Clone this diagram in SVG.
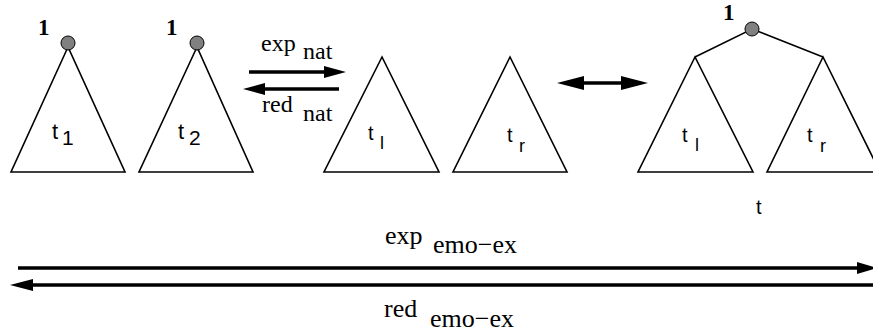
<svg xmlns="http://www.w3.org/2000/svg" width="873" height="333" viewBox="0 0 873 333">
<style>
.tri{fill:none;stroke:#000;stroke-width:1.6;stroke-linejoin:miter}
.edge{fill:none;stroke:#000;stroke-width:1.6}
.root{fill:#808080;stroke:#000;stroke-width:1}
.arr{stroke:#000;stroke-width:3.6;fill:none}
.head{fill:#000}
.num{font-family:"Liberation Serif",serif;font-weight:bold;font-size:23px;fill:#000}
.sans{font-family:"Liberation Sans",Arial,sans-serif;fill:#000}
.serif{font-family:"Liberation Serif",serif;fill:#000}
</style>
<rect width="873" height="333" fill="#fff"/>
<g id="tree-t1">
<polygon class="tri" points="68,47 11,172 125,172"/>
<circle class="root" cx="68" cy="43" r="7"/>
<text class="num" x="38" y="35">1</text>
<text class="sans" x="52" y="139" font-size="22">t</text>
<text class="sans" x="62" y="145" font-size="21">1</text>
</g>
<g id="tree-t2">
<polygon class="tri" points="197,47 139,172 253,172"/>
<circle class="root" cx="197" cy="43" r="7"/>
<text class="num" x="166" y="35">1</text>
<text class="sans" x="178" y="139" font-size="22">t</text>
<text class="sans" x="189" y="145" font-size="21">2</text>
</g>
<g id="tree-tl">
<polygon class="tri" points="382,57 324,172 439,172"/>
<text class="sans" x="368" y="140" font-size="20">t</text>
<text class="sans" x="380" y="149" font-size="18">l</text>
</g>
<g id="tree-tr">
<polygon class="tri" points="510,57 453,172 567,172"/>
<text class="sans" x="507" y="142" font-size="20">t</text>
<text class="sans" x="519" y="152" font-size="18">r</text>
</g>
<g id="tree-t">
<polyline class="edge" points="695,57 752,29 823,57"/>
<polygon class="tri" points="695,57 638,172 753,172"/>
<polygon class="tri" points="823,57 767,172 880,172"/>
<circle class="root" cx="752" cy="29" r="7"/>
<text class="num" x="723" y="20">1</text>
<text class="sans" x="682" y="142" font-size="20">t</text>
<text class="sans" x="695" y="151" font-size="18">l</text>
<text class="sans" x="807" y="142" font-size="20">t</text>
<text class="sans" x="820" y="152" font-size="18">r</text>
<text class="sans" x="756" y="214" font-size="20">t</text>
</g>
<g id="connectors">
<line class="arr" x1="249" y1="72" x2="326" y2="72"/>
<polygon class="head" points="346,72 324,66 324,78"/>
<line class="arr" x1="339" y1="89" x2="262" y2="89"/>
<polygon class="head" points="243,89 265,83 265,95"/>
<line class="arr" x1="575" y1="83" x2="630" y2="83" stroke-width="4"/>
<polygon class="head" points="557,83 584,76 584,90"/>
<polygon class="head" points="648,83 621,76 621,90"/>
<line class="arr" x1="18" y1="268" x2="862" y2="268"/>
<polygon class="head" points="877,268 857,262 857,274"/>
<line class="arr" x1="873" y1="285" x2="30" y2="285"/>
<polygon class="head" points="10,285 33,279 33,291"/>
</g>
<g id="labels">
<text class="serif" x="261" y="51" font-size="24">exp</text>
<text class="serif" x="303" y="59" font-size="24">nat</text>
<text class="serif" x="262" y="112" font-size="24">red</text>
<text class="serif" x="303" y="121" font-size="24">nat</text>
<text class="serif" x="385" y="244" font-size="26">exp</text>
<text class="serif" x="433" y="253" font-size="26">emo−ex</text>
<text class="serif" x="384" y="317" font-size="26">red</text>
<text class="serif" x="430" y="327" font-size="26">emo−ex</text>
</g>
</svg>
